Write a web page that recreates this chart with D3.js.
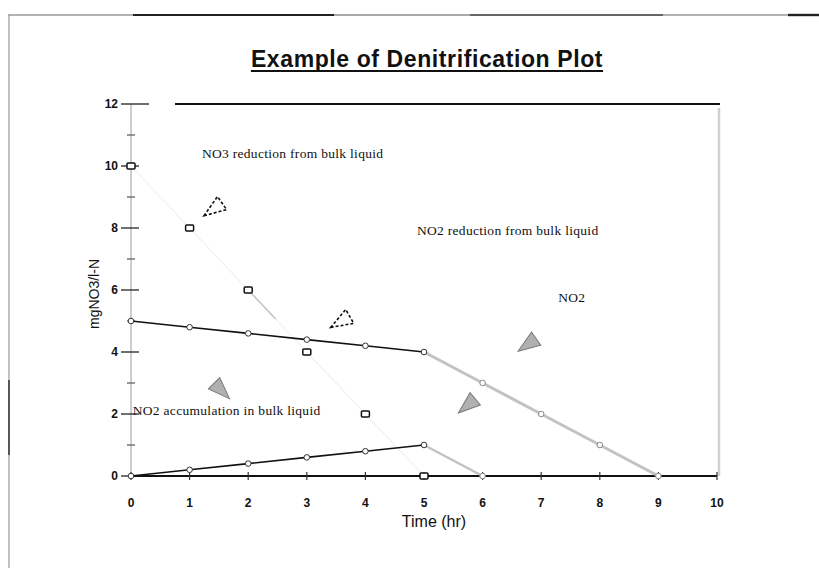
<!DOCTYPE html>
<html><head><meta charset="utf-8">
<script src="https://cdn.jsdelivr.net/npm/d3@7/dist/d3.min.js"></script>
<style>body{margin:0;background:#fff}svg{display:block}</style>
</head><body>
<svg id="c" width="819" height="568"></svg>
<script>
// ---- data ----
const titleText = "Example of Denitrification Plot";
const xLabel = "Time (hr)";
const yLabel = "mgNO3/l-N";
const xTickValues = [0,1,2,3,4,5,6,7,8,9,10];
const xTickLabels = ["0","1","2","3","4","5","6","7","8","9","10"];
const yTickValues = [0,2,4,6,8,10,12];
const yMinorValues = [1,3,5,7,9,11];
const no3Time = [0,1,2,3,4,5];
const no3Values = [10,8,6,4,2,0];
const no2RedTime = [0,1,2,3,4,5,6,7,8,9];
const no2RedValues = [5,4.8,4.6,4.4,4.2,4,3,2,1,0];
const no2AccTime = [0,1,2,3,4,5,6];
const no2AccValues = [0,0.2,0.4,0.6,0.8,1,0];
const noteTexts = ["NO3 reduction from bulk liquid","NO2 reduction from bulk liquid","NO2","NO2 accumulation in bulk liquid"];
const noteX = [1.21,4.88,7.29,0.03];
const noteY = [10.42,7.94,5.77,2.13];
const arrowX = [1.40,3.57,6.76,1.55,5.73];
const arrowY = [8.60,4.97,4.23,2.74,2.26];
const arrowAngle = [145,150,145,45,140];
const arrowKind = ["hatch","hatch","grey","grey","grey"];

// ---- layout ----
const svg = d3.select("#c");
const x = d3.scaleLinear().domain([0,10]).range([131,717]);
const y = d3.scaleLinear().domain([0,12]).range([476,104]);
const sans = "Liberation Sans, Arial, sans-serif";
const serif = "Liberation Serif, Times New Roman, serif";

// page frame (scanned sheet border)
const topSeg = [[8,133,1,"#666"],[133,334,2,"#222"],[334,470,1,"#555"],[470,663,1.6,"#333"],[663,788,1,"#666"],[788,819,2.4,"#222"]];
topSeg.forEach(s=>svg.append("line").attr("x1",s[0]).attr("x2",s[1]).attr("y1",15).attr("y2",15)
  .attr("stroke",s[3]).attr("stroke-width",s[2]));
svg.append("line").attr("x1",9).attr("x2",9).attr("y1",15).attr("y2",568).attr("stroke","#999").attr("stroke-width",1.2);
svg.append("line").attr("x1",9).attr("x2",9).attr("y1",380).attr("y2",455).attr("stroke","#333").attr("stroke-width",1.5);

// title
const title = svg.append("text").attr("x",427).attr("y",67).attr("text-anchor","middle")
  .attr("font-family",sans).attr("font-weight","bold").attr("font-size",23).attr("letter-spacing",0.6)
  .attr("fill","#111").text(titleText);
const tw = title.node().getComputedTextLength();
svg.append("line").attr("x1",427-tw/2).attr("x2",427+tw/2).attr("y1",71).attr("y2",71).attr("stroke","#111").attr("stroke-width",1.8);

// plot frame
svg.append("line").attr("x1",175).attr("x2",x(10)+3).attr("y1",y(12)).attr("y2",y(12)).attr("stroke","#111").attr("stroke-width",2);
svg.append("line").attr("x1",x(10)+2).attr("x2",x(10)+2).attr("y1",y(12)+4).attr("y2",y(0)).attr("stroke","#d0d0d0").attr("stroke-width",2.5);

// y axis
svg.append("line").attr("x1",x(0)).attr("x2",x(0)).attr("y1",y(12)).attr("y2",y(0)).attr("stroke","#9a9a9a").attr("stroke-width",1);
svg.append("g").selectAll("line").data(yTickValues).join("line")
  .attr("x1",x(0)-10).attr("x2",d=>d===12?x(0)+18:x(0)+8).attr("y1",d=>y(d)).attr("y2",d=>y(d))
  .attr("stroke","#222").attr("stroke-width",1.3);
svg.append("g").selectAll("line").data(yMinorValues).join("line")
  .attr("x1",x(0)-4).attr("x2",x(0)+4).attr("y1",d=>y(d)).attr("y2",d=>y(d))
  .attr("stroke","#555").attr("stroke-width",1.2);
svg.append("g").selectAll("text").data(yTickValues).join("text")
  .attr("x",x(0)-13).attr("y",d=>y(d)).attr("dy","0.35em").attr("text-anchor","end")
  .attr("font-family",sans).attr("font-weight","bold").attr("font-size",12)
  .attr("fill","#111").text(d=>d);
svg.append("text").attr("transform",`translate(99,${(y(12)+y(0))/2+4}) rotate(-90)`).attr("text-anchor","middle")
  .attr("font-family",sans).attr("font-size",14).attr("fill","#111").text(yLabel);

// x axis
svg.append("line").attr("x1",x(0)).attr("x2",x(10)).attr("y1",y(0)).attr("y2",y(0)).attr("stroke","#111").attr("stroke-width",2);
svg.append("g").selectAll("line").data(xTickValues).join("line")
  .attr("x1",d=>x(d)).attr("x2",d=>x(d)).attr("y1",y(0)-4).attr("y2",y(0)+4).attr("stroke","#333").attr("stroke-width",1.2);
svg.append("g").selectAll("text").data(xTickValues).join("text")
  .attr("x",d=>x(d)).attr("y",y(0)+31).attr("text-anchor","middle")
  .attr("font-family",sans).attr("font-weight","bold").attr("font-size",12)
  .attr("fill","#111").text((d,i)=>xTickLabels[i]);
svg.append("text").attr("x",434).attr("y",y(0)+51).attr("text-anchor","middle")
  .attr("font-family",sans).attr("font-size",16).attr("fill","#111").text(xLabel);

// series
const line = d3.line().x(d=>x(d[0])).y(d=>y(d[1]));
const no3 = no3Time.map((t,i)=>[t,no3Values[i]]);
const red = no2RedTime.map((t,i)=>[t,no2RedValues[i]]);
const acc = no2AccTime.map((t,i)=>[t,no2AccValues[i]]);
svg.append("path").attr("d",line(no3)).attr("fill","none").attr("stroke","#f3f3f3").attr("stroke-width",1.5);
svg.append("path").attr("d",line(no3.slice(2,4))).attr("fill","none").attr("stroke","#c4c4c4").attr("stroke-width",1.5).attr("stroke-dasharray","40 200");
svg.append("path").attr("d",line(red.filter(d=>d[0]>=5))).attr("fill","none").attr("stroke","#c2c2c2").attr("stroke-width",3);
svg.append("path").attr("d",line(red.filter(d=>d[0]<=5))).attr("fill","none").attr("stroke","#111").attr("stroke-width",1.6);
svg.append("path").attr("d",line(acc.filter(d=>d[0]>=5))).attr("fill","none").attr("stroke","#c2c2c2").attr("stroke-width",2.5);
svg.append("path").attr("d",line(acc.filter(d=>d[0]<=5))).attr("fill","none").attr("stroke","#111").attr("stroke-width",1.6);

svg.append("g").selectAll("circle").data(red.concat(acc)).join("circle")
  .attr("cx",d=>x(d[0])).attr("cy",d=>y(d[1])).attr("r",2.8)
  .attr("fill","#fff").attr("stroke",d=>d[0]>5?"#888":"#333").attr("stroke-width",1);
svg.append("g").selectAll("rect").data(no3).join("rect")
  .attr("x",d=>x(d[0])-4).attr("y",d=>y(d[1])-3).attr("width",8).attr("height",6).attr("rx",1)
  .attr("fill","#fff").attr("stroke","#111").attr("stroke-width",1.5);

// annotations
svg.append("g").selectAll("text").data(noteTexts).join("text")
  .attr("x",(d,i)=>x(noteX[i])).attr("y",(d,i)=>y(noteY[i])).attr("dy","0.35em")
  .attr("font-family",serif).attr("font-size",13.5).attr("letter-spacing",0.3)
  .attr("fill","#111").text(d=>d);

// callout arrows
const tri = "M11,0 L-11,-8 L-11,8 Z";
svg.append("g").selectAll("path").data(arrowX).join("path")
  .attr("d",tri)
  .attr("transform",(d,i)=>`translate(${x(arrowX[i])},${y(arrowY[i])}) rotate(${arrowAngle[i]})`)
  .attr("fill",(d,i)=>arrowKind[i]==="hatch"?"#fff":"#b0b0b0")
  .attr("stroke",(d,i)=>arrowKind[i]==="hatch"?"#111":"#777")
  .attr("stroke-width",(d,i)=>arrowKind[i]==="hatch"?1.6:1)
  .attr("stroke-dasharray",(d,i)=>arrowKind[i]==="hatch"?"3 2":null);
</script>
</body></html>
